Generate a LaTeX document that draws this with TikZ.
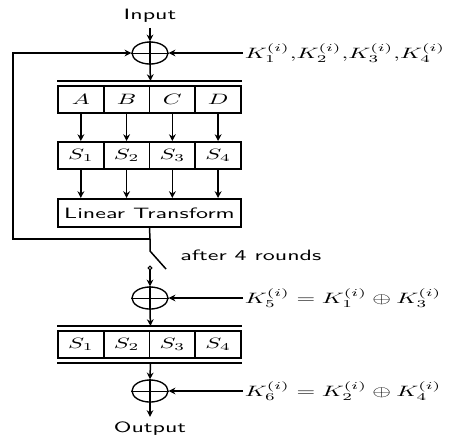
\documentclass[tikz,border=0pt]{standalone}
\usepackage{amsmath}
\usepackage{graphicx}
\usepackage{tikz}
\usetikzlibrary{arrows.meta, positioning, shapes.geometric, calc}
\newcommand{\wide}[1]{\scalebox{1.6}[1]{#1}}

\begin{document}
\begin{tikzpicture}[x=0.6667pt, y=-0.6667pt,
    cell/.style={draw, line width=1.3pt, minimum width=30.5pt,
                 minimum height=18pt, inner sep=0pt},
    xorop/.style={draw, ellipse, line width=0.9pt, minimum width=24pt,
                  minimum height=14.7pt, inner sep=0pt},
    flow/.style={-{Stealth[length=4.5pt, width=4.5pt]}, line width=1pt},
    wire/.style={line width=1pt},
    bar/.style={line width=1.3pt},
    keylbl/.style={anchor=west, inner sep=1pt,
                   font=\fontsize{10.3}{12}\selectfont}]
  \useasboundingbox (0,0) rectangle (459,436);

  % round input and key mixing
  \node[font=\sffamily] (input) at (150,16) {\wide{Input}};
  \node[xorop] (x1) at (150,53) {};
  \draw[line width=0.5pt] (x1.west) -- (x1.east);
  \node[keylbl] (k1) at (243,53)
    {\wide{$K_1^{(i)},\! K_2^{(i)},\! K_3^{(i)},\! K_4^{(i)}$}};
  \draw[flow] (input) -- (x1.north);
  \draw[flow] (k1.west) -- (x1.east);

  % state words, s-boxes, linear layer
  \foreach \i/\t in {1/A, 2/B, 3/C, 4/D} {
    \node[cell] (a\i) at ({35.1+45.75*\i}, 99.5) {\wide{$\t$}};
    \node[cell] (s\i) at ({35.1+45.75*\i}, 155.5) {\wide{$S_\i$}};
    \draw[flow] (a\i.south) -- (s\i.north);
  }
  \node[draw, line width=1.3pt, minimum width=122pt, minimum height=18.7pt,
        inner sep=0pt, font=\sffamily] (lt) at (149.5,213)
    {\wide{Linear Transform}};
  \foreach \i in {1,...,4}
    \draw[flow] (s\i.south) -- (s\i.south |- lt.north);

  \coordinate (bar1) at ([yshift=2.7pt]a2.north east);
  \draw[bar] ([yshift=2.7pt]a1.north west) -- ([yshift=2.7pt]a4.north east);
  \draw[wire] (x1.north) -- (x1.south);
  \draw[flow] (x1.south) -- (bar1);

  % feedback loop and switch
  \coordinate (junc) at (150,239);
  \coordinate (loop) at (13,239);
  \coordinate (sw1) at (150,251);
  \coordinate (sw2) at (166,269);
  \draw[wire] (lt.south) -- (junc) -- (sw1) -- (sw2);
  \draw[flow] (junc) -- (loop) |- (x1.west);
  \node[draw, circle, line width=0.7pt, minimum size=2.4pt, inner sep=0pt]
    (pin) at (150,268) {};
  \node[anchor=west, font=\sffamily] (rounds) at (175,255)
    {\wide{after 4 rounds}};

  % output transformation
  \node[xorop] (x2) at (150,298) {};
  \draw[line width=0.5pt] (x2.west) -- (x2.east);
  \node[keylbl] (k5) at (243,298)
    {\wide{$K_5^{(i)} = K_1^{(i)} \oplus K_3^{(i)}$}};
  \draw[flow] (pin.south) -- (x2.north);
  \draw[flow] (k5.west) -- (x2.east);

  \foreach \i in {1,...,4}
    \node[cell] (t\i) at ({35.1+45.75*\i}, 344.5) {\wide{$S_\i$}};
  \coordinate (bar2) at ([yshift=2.7pt]t2.north east);
  \coordinate (bar3) at ([yshift=-2.7pt]t2.south east);
  \draw[bar] ([yshift=2.7pt]t1.north west) -- ([yshift=2.7pt]t4.north east);
  \draw[bar] ([yshift=-2.7pt]t1.south west) -- ([yshift=-2.7pt]t4.south east);
  \draw[wire] (x2.north) -- (x2.south);
  \draw[flow] (x2.south) -- (bar2);

  \node[xorop] (x3) at (150,391) {};
  \draw[line width=0.5pt] (x3.west) -- (x3.east);
  \node[keylbl] (k6) at (243,391)
    {\wide{$K_6^{(i)} = K_2^{(i)} \oplus K_4^{(i)}$}};
  \draw[flow] (bar3) -- (x3.north);
  \draw[flow] (k6.west) -- (x3.east);

  \node[font=\sffamily] (output) at (150,429) {\wide{Output}};
  \draw[wire] (x3.north) -- (x3.south);
  \draw[flow] (x3.south) -- (output.north);
\end{tikzpicture}
\end{document}
